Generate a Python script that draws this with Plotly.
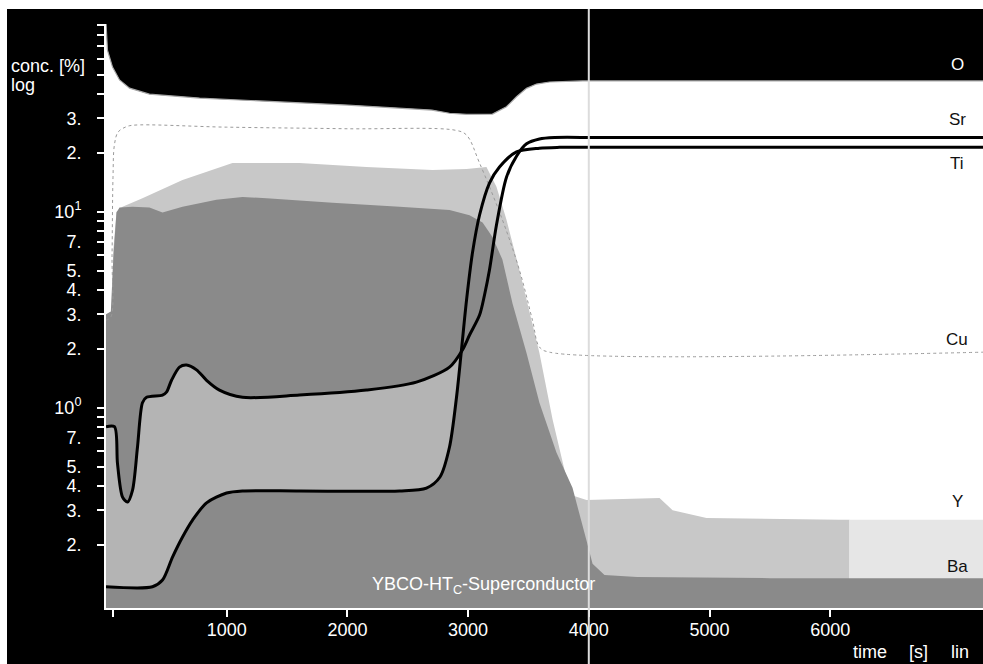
import plotly.graph_objects as go

# ---------------- data (time in s, concentration in %) ----------------
o_t = [0, 12, 54, 112, 195, 360, 775, 1000, 2000, 2700, 2846, 2987, 3202, 3318, 3401, 3484, 3567, 3675, 3948, 7266]
o_c = [92, 66.8, 54.7, 47.0, 42.7, 39.8, 38.0, 37.4, 35.0, 33.0, 31.8, 31.4, 31.5, 34.3, 38.6, 42.6, 44.8, 45.9, 46.5, 46.5]

sr_t = [0, 70, 95, 137, 178, 220, 261, 302, 336, 468, 501, 543, 609, 667, 750, 833, 940, 1131, 1603, 2158, 2572,
        2846, 2953, 3012, 3095, 3136, 3177, 3235, 3318, 3401, 3484, 3591, 3716, 4089, 7266]
sr_c = [0.80, 0.80, 0.52, 0.35, 0.33, 0.38, 0.63, 1.06, 1.13, 1.16, 1.20, 1.38, 1.61, 1.65, 1.56, 1.38, 1.23, 1.13,
        1.16, 1.23, 1.35, 1.61, 1.97, 2.35, 2.97, 3.76, 5.04, 8.55, 15.0, 19.2, 22.2, 23.5, 23.9, 23.9, 23.9]

ti_t = [0, 385, 468, 551, 634, 717, 833, 999, 1131, 1603, 2432, 2655, 2767, 2846, 2904, 2945, 2987, 3037, 3095,
        3177, 3260, 3401, 3591, 3757, 7266]
ti_c = [0.122, 0.122, 0.132, 0.173, 0.219, 0.267, 0.327, 0.367, 0.376, 0.376, 0.376, 0.389, 0.443, 0.63, 1.13,
        1.97, 3.54, 6.22, 9.62, 14.0, 16.9, 20.2, 21.1, 21.3, 21.3]

cu_t = [0, 40, 50, 58, 70, 100, 160, 220, 1000, 2000, 2900, 2987, 3095, 3285, 3425, 3533, 3591, 3674, 7266]
cu_c = [2.8, 2.9, 6, 15, 22, 25.5, 27, 27.6, 27, 26.5, 26, 24.6, 17.7, 9.06, 5.04, 2.80, 2.04, 1.92, 1.92]

y_t = [0, 45, 62, 87, 137, 302, 634, 1048, 1603, 2158, 2705, 2987, 3152, 3235, 3318, 3425, 3591, 3700, 3816,
       3866, 3981, 4586, 4694, 4975, 6076, 6160, 7266]
y_c = [2.9, 3.0, 6.5, 10.0, 10.6, 11.7, 14.5, 17.7, 17.7, 16.9, 16.3, 16.5, 16.9, 13.4, 9.1, 5.04, 1.9, 0.87,
       0.434, 0.356, 0.338, 0.346, 0.300, 0.274, 0.268, 0.268, 0.268]

ba_t = [0, 40, 62, 87, 112, 220, 360, 468, 634, 915, 1131, 1330, 1877, 2432, 2846, 3012, 3120, 3203, 3284, 3368,
        3484, 3591, 3732, 3865, 3981, 4031, 4130, 4400, 5500, 7266]
ba_c = [3.0, 3.1, 6.0, 9.9, 10.5, 10.6, 10.5, 9.9, 10.6, 11.5, 11.9, 11.7, 11.1, 10.6, 10.2, 9.6, 8.8, 7.4, 5.7,
        3.4, 1.9, 1.06, 0.59, 0.39, 0.21, 0.16, 0.14, 0.137, 0.135, 0.135]

x_ticks = [1000, 2000, 3000, 4000, 5000, 6000]
x_labels = ["1000", "2000", "3000", "4000", "5000", "6000"]
x_minor = [60]
y_ticks = [0.2, 0.3, 0.4, 0.5, 0.7, 1, 2, 3, 4, 5, 7, 10, 20, 30]
y_labels = ["2.", "3.", "4.", "5.", "7.", "10<sup>0</sup>", "2.", "3.", "4.", "5.", "7.", "10<sup>1</sup>", "2.", "3."]
y_minor = [0.6, 0.8, 0.9, 6, 8, 9, 40, 50, 60, 70, 80, 90]

element_labels = ["O", "Sr", "Ti", "Cu", "Y", "Ba"]
element_label_y = [64, 119, 163, 339, 501, 566]   # pixel rows of the right-hand labels
fold_t = 4000     # scan fold line
y_split_t = 6160  # where the Y pattern becomes sparse

FLOOR, CEIL = 0.05, 500
FONT = "Liberation Sans, Arial, sans-serif"


def area(t, c, base, color):
    return go.Scatter(x=list(t) + list(t)[::-1], y=list(c) + [base] * len(t), fill="toself",
                      fillcolor=color, mode="none", hoverinfo="skip")


fig = go.Figure()

# Y (light speckled)
yd = [(t, c) for t, c in zip(y_t, y_c) if t <= y_split_t]
yf = [(t, c) for t, c in zip(y_t, y_c) if t >= y_split_t]
fig.add_trace(area([p[0] for p in yd], [p[1] for p in yd], FLOOR, "#c8c8c8"))
fig.add_trace(area([p[0] for p in yf], [p[1] for p in yf], FLOOR, "#e6e6e6"))
# Ba (dark grey)
fig.add_trace(area(ba_t, ba_c, FLOOR, "#8a8a8a"))
# band between Sr and Ti in the film
band_end = 2960
sa = [(t, c) for t, c in zip(sr_t, sr_c) if t <= band_end]
tb = [(t, c) for t, c in zip(ti_t, ti_c) if t <= band_end]
fig.add_trace(go.Scatter(x=[p[0] for p in sa] + [p[0] for p in tb][::-1],
                         y=[p[1] for p in sa] + [p[1] for p in tb][::-1],
                         fill="toself", fillcolor="#b4b4b4", mode="none", hoverinfo="skip",
                         line_shape="spline"))
# Cu line
fig.add_trace(go.Scatter(x=cu_t, y=cu_c, mode="lines", line=dict(color="#9a9a9a", width=1, dash="dot"),
                         line_shape="spline", hoverinfo="skip"))
# O: black above the curve
fig.add_trace(area(o_t, o_c, CEIL, "black"))
fig.add_trace(go.Scatter(x=o_t, y=o_c, mode="lines", line=dict(color="#a8a8a8", width=1.2),
                         hoverinfo="skip"))
# Sr and Ti thick lines
for t, c in ((sr_t, sr_c), (ti_t, ti_c)):
    fig.add_trace(go.Scatter(x=t, y=c, mode="lines", line=dict(color="black", width=3, smoothing=0.8),
                             line_shape="spline", hoverinfo="skip"))

W, H = 983, 664
L, R, T, B = 106, 0, 24, 56
pw, ph = W - L - R, H - T - B


def px_x(p):
    return (p - L) / pw


def px_y(p):
    return (H - B - p) / ph


annotations = [
    dict(text="conc. [%]", x=px_x(9), y=px_y(66), xanchor="left", yanchor="middle"),
    dict(text="log", x=px_x(9), y=px_y(85), xanchor="left", yanchor="middle"),
    dict(text="YBCO-HT<sub>C</sub>-Superconductor", x=px_x(483), y=px_y(585), xanchor="center", yanchor="middle"),
    dict(text="time", x=px_x(870), y=px_y(652), xanchor="center", yanchor="middle"),
    dict(text="[s]", x=px_x(918), y=px_y(652), xanchor="center", yanchor="middle"),
    dict(text="lin", x=px_x(960), y=px_y(652), xanchor="center", yanchor="middle"),
]
for a in annotations:
    a.update(xref="paper", yref="paper", showarrow=False, font=dict(family=FONT, size=18, color="white"))
for name, yp in zip(element_labels, element_label_y):
    annotations.append(dict(text=name, x=px_x(957), y=px_y(yp), xref="paper", yref="paper", showarrow=False,
                            xanchor="center", yanchor="middle",
                            font=dict(family=FONT, size=17, color="white" if name == "O" else "#111")))

shapes = [
    # white scan margins
    dict(type="rect", xref="paper", yref="paper", x0=px_x(-5), x1=px_x(7), y0=px_y(H + 5), y1=px_y(-5),
         fillcolor="white", line_width=0, layer="above"),
    dict(type="rect", xref="paper", yref="paper", x0=px_x(-5), x1=px_x(W + 5), y0=px_y(9), y1=px_y(-5),
         fillcolor="white", line_width=0, layer="above"),
    # fold line
    dict(type="line", xref="x", yref="paper", x0=fold_t, x1=fold_t, y0=px_y(H + 5), y1=px_y(9),
         line=dict(color="#dcdcdc", width=2), layer="above"),
]

tick_common = dict(showgrid=False, zeroline=False, showline=True, linecolor="white", linewidth=2,
                   ticks="outside", ticklen=7, tickwidth=2, tickcolor="white",
                   tickfont=dict(family=FONT, size=18, color="white"))

fig.update_layout(
    width=W, height=H, margin=dict(l=L, r=R, t=T, b=B),
    paper_bgcolor="black", plot_bgcolor="white", showlegend=False,
    font=dict(family=FONT, size=18, color="white"),
    annotations=annotations, shapes=shapes,
    xaxis=dict(range=[0, pw * 1000 / 120.7], tickmode="array", tickvals=x_ticks, ticktext=x_labels,
               ticklabelstandoff=-3,
               minor=dict(tickmode="array", tickvals=x_minor, ticks="outside", ticklen=7, tickwidth=2,
                          tickcolor="white", showgrid=False),
               **tick_common),
    yaxis=dict(type="log", range=[-1.0219, 1.9577], tickmode="array", tickvals=y_ticks, ticktext=y_labels,
               ticklabelstandoff=12,
               minor=dict(tickmode="array", tickvals=y_minor, ticks="outside", ticklen=7, tickwidth=2,
                          tickcolor="white", showgrid=False),
               **tick_common),
)

fig.write_html("out.html", config={"displayModeBar": False},
               post_script="document.body.style.margin='0';document.body.style.overflow='hidden';")
